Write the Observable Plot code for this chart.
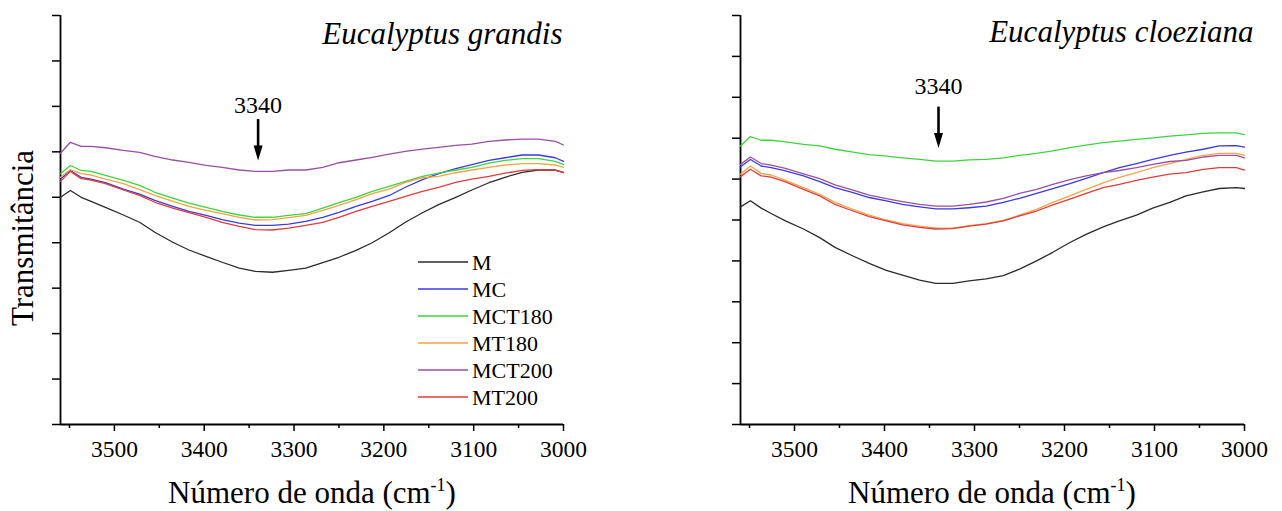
<!DOCTYPE html>
<html>
<head>
<meta charset="utf-8">
<script src="https://cdn.jsdelivr.net/npm/d3@7"></script>
<script src="https://cdn.jsdelivr.net/npm/@observablehq/plot@0.6"></script>
<style>
  html, body { margin: 0; padding: 0; background: #fff; }
  #wrap { position: relative; width: 1282px; height: 511px; }
  #left, #right { position: absolute; top: 0; }
  #left { left: 0; }
  #right { left: 640px; }
  svg text { font-family: 'Liberation Serif', 'Times New Roman', serif; }
</style>
</head>
<body>
<div id="wrap"><div id="left"></div><div id="right"></div></div>
<script>
// ---------- data ----------
const wavenumbers = [3560, 3549, 3537, 3526, 3510, 3490, 3472, 3455, 3435, 3417, 3398, 3380, 3361, 3343, 3324, 3306, 3287, 3268, 3250, 3231, 3213, 3194, 3176, 3157, 3139, 3120, 3102, 3083, 3065, 3046, 3028, 3009, 3000];

const seriesNames = ["M", "MC", "MCT180", "MT180", "MCT200", "MT200"];
const seriesColors = ["#2b2b2b", "#3a3ae0", "#3ed43e", "#f5a347", "#9a4fa6", "#e03c3c"];

// Eucalyptus grandis (transmittance, arbitrary units)
const grandisM      = [50.0, 51.5, 50.0, 49.1, 47.8, 46.1, 44.5, 42.3, 40.1, 38.4, 37.0, 35.7, 34.4, 33.7, 33.5, 33.9, 34.4, 35.6, 36.8, 38.3, 40.0, 42.2, 44.5, 46.6, 48.4, 50.0, 51.6, 53.2, 54.4, 55.5, 56.0, 56.0, 55.5];
const grandisMC     = [54.0, 55.9, 54.4, 54.0, 53.2, 51.8, 50.7, 49.3, 48.0, 46.9, 46.0, 45.1, 44.3, 43.8, 43.8, 44.1, 44.7, 45.6, 46.7, 48.0, 49.1, 50.4, 52.2, 53.9, 55.2, 56.3, 57.2, 58.1, 58.7, 59.3, 59.3, 58.7, 57.9];
const grandisMCT180 = [55.2, 57.0, 55.9, 55.7, 54.8, 53.7, 52.6, 51.1, 49.8, 48.7, 47.8, 46.9, 46.1, 45.6, 45.6, 46.0, 46.4, 47.6, 48.8, 50.0, 51.3, 52.4, 53.5, 54.6, 55.3, 56.0, 56.6, 57.5, 58.1, 58.5, 58.5, 57.9, 57.2];
const grandisMT180  = [54.4, 56.1, 55.2, 54.9, 54.0, 53.0, 51.7, 50.4, 49.1, 48.0, 47.1, 46.4, 45.6, 45.0, 45.1, 45.5, 46.0, 47.1, 48.2, 49.5, 50.8, 51.8, 53.3, 54.3, 54.6, 55.4, 56.0, 56.6, 57.1, 57.4, 57.4, 57.1, 56.6];
const grandisMCT200 = [59.7, 62.1, 61.2, 61.2, 60.9, 60.3, 59.9, 59.0, 58.2, 57.7, 57.0, 56.6, 56.0, 55.7, 55.7, 56.0, 56.0, 56.6, 57.6, 58.2, 58.8, 59.5, 60.1, 60.6, 61.0, 61.4, 61.7, 62.3, 62.6, 62.8, 62.8, 62.3, 61.5];
const grandisMT200  = [53.5, 55.7, 54.1, 53.8, 53.0, 51.6, 50.4, 48.9, 47.6, 46.6, 45.6, 44.5, 43.6, 42.9, 42.8, 43.2, 43.8, 44.5, 45.6, 46.9, 48.0, 49.1, 50.2, 51.3, 52.2, 53.3, 54.0, 54.6, 55.3, 55.9, 56.1, 55.9, 55.4];

// Eucalyptus cloeziana (transmittance, arbitrary units)
const cloezianaM      = [53.2, 54.7, 52.9, 51.6, 49.8, 47.8, 45.7, 43.3, 41.2, 39.4, 37.7, 36.5, 35.3, 34.5, 34.5, 35.1, 35.6, 36.4, 38.0, 40.0, 42.1, 44.5, 46.5, 48.3, 49.8, 51.2, 52.9, 54.3, 55.9, 56.9, 57.7, 57.9, 57.7];
const cloezianaMC     = [63.0, 64.8, 63.2, 62.8, 62.0, 60.8, 59.4, 57.9, 56.7, 55.5, 54.7, 53.8, 53.2, 52.7, 52.7, 53.0, 53.4, 54.3, 55.3, 56.5, 57.7, 58.9, 60.2, 61.6, 62.8, 63.8, 64.8, 65.8, 66.6, 67.3, 68.1, 68.2, 67.8];
const cloezianaMCT180 = [68.1, 70.4, 69.5, 69.5, 69.1, 68.5, 68.1, 67.3, 66.6, 66.0, 65.6, 65.2, 64.8, 64.4, 64.4, 64.7, 64.8, 65.2, 65.8, 66.3, 66.9, 67.7, 68.3, 68.9, 69.3, 69.7, 70.1, 70.5, 70.8, 71.2, 71.3, 71.3, 70.9];
const cloezianaMT180  = [61.2, 63.2, 61.4, 61.0, 59.7, 57.9, 56.3, 54.3, 52.6, 51.2, 50.0, 49.1, 48.5, 48.0, 48.0, 48.6, 49.1, 49.9, 51.2, 52.6, 54.3, 55.9, 57.5, 59.1, 60.4, 61.6, 62.8, 63.8, 64.8, 65.8, 66.3, 66.3, 65.8];
const cloezianaMCT200 = [63.6, 65.4, 63.8, 63.4, 62.6, 61.3, 60.1, 58.6, 57.3, 56.1, 55.2, 54.5, 53.8, 53.4, 53.4, 53.8, 54.4, 55.3, 56.5, 57.5, 58.7, 59.9, 60.8, 61.6, 62.1, 62.8, 63.6, 64.3, 64.6, 65.4, 65.8, 65.8, 65.2];
const cloezianaMT200  = [60.6, 62.4, 60.8, 60.5, 59.3, 57.5, 55.9, 53.8, 52.2, 50.8, 49.8, 48.8, 48.2, 47.8, 47.9, 48.5, 49.0, 49.8, 51.0, 52.2, 53.7, 55.1, 56.5, 57.9, 58.7, 59.7, 60.5, 61.2, 61.6, 62.4, 62.8, 62.8, 62.2];

const majorTicks = [3500, 3400, 3300, 3200, 3100, 3000];
const minorTicks = [3550, 3450, 3350, 3250, 3150, 3050];
const peakWavenumber = 3340;

const titles = ["Eucalyptus grandis", "Eucalyptus cloeziana"];
const xLabel = "Número de onda (cm";
const xLabelSup = "-1";
const yLabel = "Transmitância";

// annotation heights (data units) for each panel
const grandisArrow = {top: 67.1, bottom: 58.1, label: 69.3};
const cloezianaArrow = {top: 77.6, bottom: 67.6, label: 81.5};

// ---------- helpers ----------
const SERIF = "'Liberation Serif', 'Times New Roman', serif";

function tidy(arrays) {
  const out = [];
  seriesNames.forEach((name, i) => {
    arrays[i].forEach((v, j) => out.push({series: name, wn: wavenumbers[j], value: v}));
  });
  return out;
}

const downTriangle = {
  draw(context, size) {
    const r = Math.sqrt(size / Math.PI);
    context.moveTo(0, 0);
    context.lineTo(-0.9 * r, -3 * r);
    context.lineTo(0.9 * r, -3 * r);
    context.closePath();
  }
};

function panel({data, width, marginLeft, marginRight, yMax, arrow, title, titleDx, titleDy}) {
  const yTicks = d3.range(0, yMax + 1, 10);
  return Plot.plot({
    width, height: 511,
    marginLeft, marginRight, marginTop: 15, marginBottom: 87,
    style: {fontFamily: SERIF, fontSize: "22px", color: "#000", background: "transparent", overflow: "visible"},
    x: {domain: [3560, 3000]},
    y: {domain: [0, yMax]},
    color: {domain: seriesNames, range: seriesColors},
    marks: [
      Plot.axisY({ticks: yTicks, tickSize: 8, tickFormat: () => "", label: null, strokeWidth: 1.5}),
      Plot.axisX({ticks: majorTicks, tickSize: 7, tickFormat: () => "", label: null, strokeWidth: 1.5}),
      Plot.axisX({ticks: minorTicks, tickSize: 4, tickFormat: () => "", label: null, strokeWidth: 1.5}),
      Plot.text(majorTicks, {x: d => d, y: () => 0, text: d => String(d), lineAnchor: "top", dy: 16, fontSize: 23.5, fontFamily: SERIF}),
      Plot.ruleX([3560], {strokeWidth: 1.8}),
      Plot.ruleY([0], {strokeWidth: 1.8}),
      Plot.line(data, {x: "wn", y: "value", z: "series", stroke: "series", strokeWidth: 1.3}),
      Plot.ruleX([peakWavenumber], {y1: arrow.top, y2: arrow.bottom + 1.5, strokeWidth: 2.6, stroke: "#000"}),
      Plot.dot([peakWavenumber], {x: d => d, y: () => arrow.bottom, symbol: downTriangle, r: 5, fill: "#000", stroke: null}),
      Plot.text([peakWavenumber], {x: d => d, y: () => arrow.label, text: d => String(d), lineAnchor: "bottom", fontSize: 24, fontFamily: SERIF, dy: 3}),
      Plot.text([title], {frameAnchor: "top-right", text: d => d, textAnchor: "end", lineAnchor: "top", fontStyle: "italic", fontFamily: SERIF, fontSize: 31, dx: titleDx, dy: titleDy})
    ]
  });
}

function addXLabel(svg, cx) {
  const t = d3.select(svg).append("text")
    .attr("x", cx).attr("y", 503)
    .attr("text-anchor", "middle")
    .attr("font-family", SERIF)
    .attr("font-size", 31)
    .attr("fill", "#000");
  t.append("tspan").text(xLabel);
  t.append("tspan").attr("dy", -12).attr("font-size", 18).text(xLabelSup);
  t.append("tspan").attr("dy", 12).text(")");
}

// ---------- left panel ----------
const leftSvg = panel({
  data: tidy([grandisM, grandisMC, grandisMCT180, grandisMT180, grandisMCT200, grandisMT200]),
  width: 640, marginLeft: 60, marginRight: 77, yMax: 90,
  arrow: grandisArrow, title: titles[0], titleDx: -1, titleDy: 6
});
document.getElementById("left").appendChild(leftSvg);
addXLabel(leftSvg, 312);
d3.select(leftSvg).append("text")
  .attr("transform", "translate(33,238) rotate(-90)")
  .attr("text-anchor", "middle")
  .attr("font-family", SERIF)
  .attr("font-size", 31)
  .attr("fill", "#000")
  .text(yLabel);

// legend
const lg = d3.select(leftSvg).append("g")
  .attr("font-size", 22)
  .attr("font-family", SERIF)
  .attr("text-anchor", "start");
seriesNames.forEach((name, i) => {
  const y = 262 + i * 27;
  lg.append("line").attr("x1", 418).attr("x2", 468).attr("y1", y).attr("y2", y)
    .attr("stroke", seriesColors[i]).attr("stroke-width", 1.3);
  lg.append("text").attr("x", 472).attr("y", y).attr("dy", "0.35em")
    .attr("text-anchor", "start").attr("fill", "#000").text(name);
});

// ---------- right panel ----------
const rightSvg = panel({
  data: tidy([cloezianaM, cloezianaMC, cloezianaMCT180, cloezianaMT180, cloezianaMCT200, cloezianaMT200]),
  width: 642, marginLeft: 100, marginRight: 38, yMax: 100,
  arrow: cloezianaArrow, title: titles[1], titleDx: 9, titleDy: 4
});
document.getElementById("right").appendChild(rightSvg);
addXLabel(rightSvg, 352);
</script>
</body>
</html>
